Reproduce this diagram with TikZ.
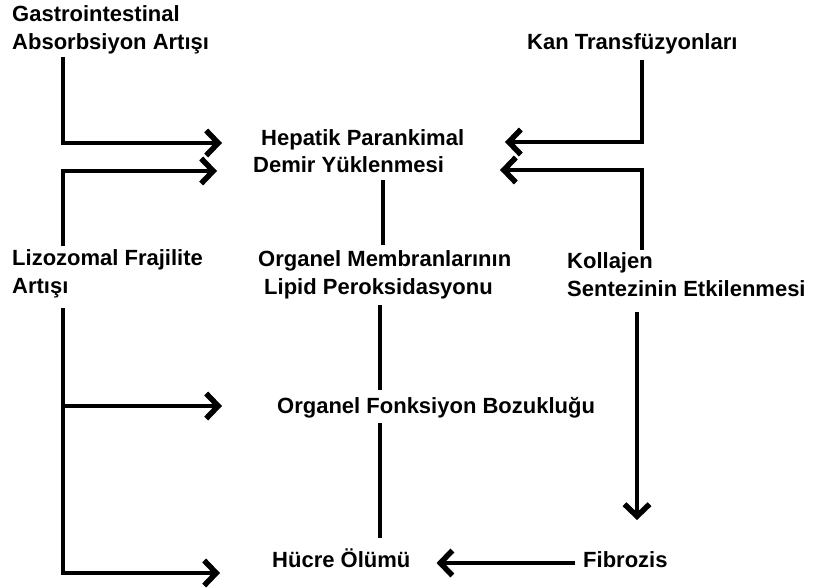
\documentclass[tikz,border=0pt]{standalone}
\usepackage{fontspec}
\setmainfont{Liberation Sans}
\usetikzlibrary{arrows.meta}
\tikzset{
  lbl/.style={anchor=base west, inner sep=0pt, align=left,
    font=\bfseries\fontsize{22}{28}\selectfont},
  conn/.style={line width=3.2pt},
  arr/.style={conn, -{Straight Barb[length=12pt,width=25pt,line width=5.5pt]}}
}
\begin{document}
\begin{tikzpicture}[x=1pt,y=1pt]
\useasboundingbox (0,0) rectangle (821,-588);
% texts (anchored at the baseline of the last line)
\node[lbl] (gastro)   at (12,-50)  {Gastrointestinal\\Absorbsiyon Artışı};
\node[lbl] (kan)      at (527,-50) {Kan Transfüzyonları};
\node[lbl] (hepatik)  at (253,-173) {\hspace*{8pt}Hepatik Parankimal\\Demir Yüklenmesi};
\node[lbl] (lizo)     at (12,-293) {Lizozomal Frajilite\\Artışı};
\node[lbl] (membran)  at (258,-294) {Organel Membranlarının\\\hspace*{6pt}Lipid Peroksidasyonu};
\node[lbl] (kollajen) at (567,-296) {Kollajen\\Sentezinin Etkilenmesi};
\node[lbl] (fonk)     at (277,-413) {Organel Fonksiyon Bozukluğu};
\node[lbl] (hucre)    at (272,-567) {Hücre Ölümü};
\node[lbl] (fibrozis) at (583,-567) {Fibrozis};
% arrows into hepatik
\draw[arr] ([shift={(51pt,-7pt)}]gastro.base west) |- ([shift={(-31pt,30pt)}]hepatik.base west);
\draw[arr] ([shift={(51pt,47pt)}]lizo.base west) |- ([shift={(-36pt,2pt)}]hepatik.base west);
\draw[arr] ([shift={(115pt,-10pt)}]kan.base west) |- ([shift={(252pt,31pt)}]hepatik.base west);
\draw[arr] ([shift={(75pt,46pt)}]kollajen.base west) |- ([shift={(247pt,3pt)}]hepatik.base west);
% middle column
\draw[conn] ([shift={(130pt,-7pt)}]hepatik.base west) -- ([shift={(125pt,49pt)}]membran.base west);
\draw[conn] ([shift={(122pt,-11pt)}]membran.base west) -- ([shift={(103pt,23pt)}]fonk.base west);
\draw[conn] ([shift={(103pt,-10pt)}]fonk.base west) -- ([shift={(108pt,29pt)}]hucre.base west);
% left branch
\draw[arr] ([shift={(51pt,-15pt)}]lizo.base west) |- ([shift={(-55pt,7pt)}]fonk.base west);
\draw[arr] ([shift={(51pt,-15pt)}]lizo.base west) |- ([shift={(-52pt,-6pt)}]hucre.base west);
% right branch
\draw[arr] ([shift={(70pt,-16pt)}]kollajen.base west) -- ([shift={(54pt,47pt)}]fibrozis.base west);
\draw[arr] ([shift={(-8pt,4pt)}]fibrozis.base west) -- ([shift={(26pt,4pt)}]hucre.base east);
\end{tikzpicture}
\end{document}
